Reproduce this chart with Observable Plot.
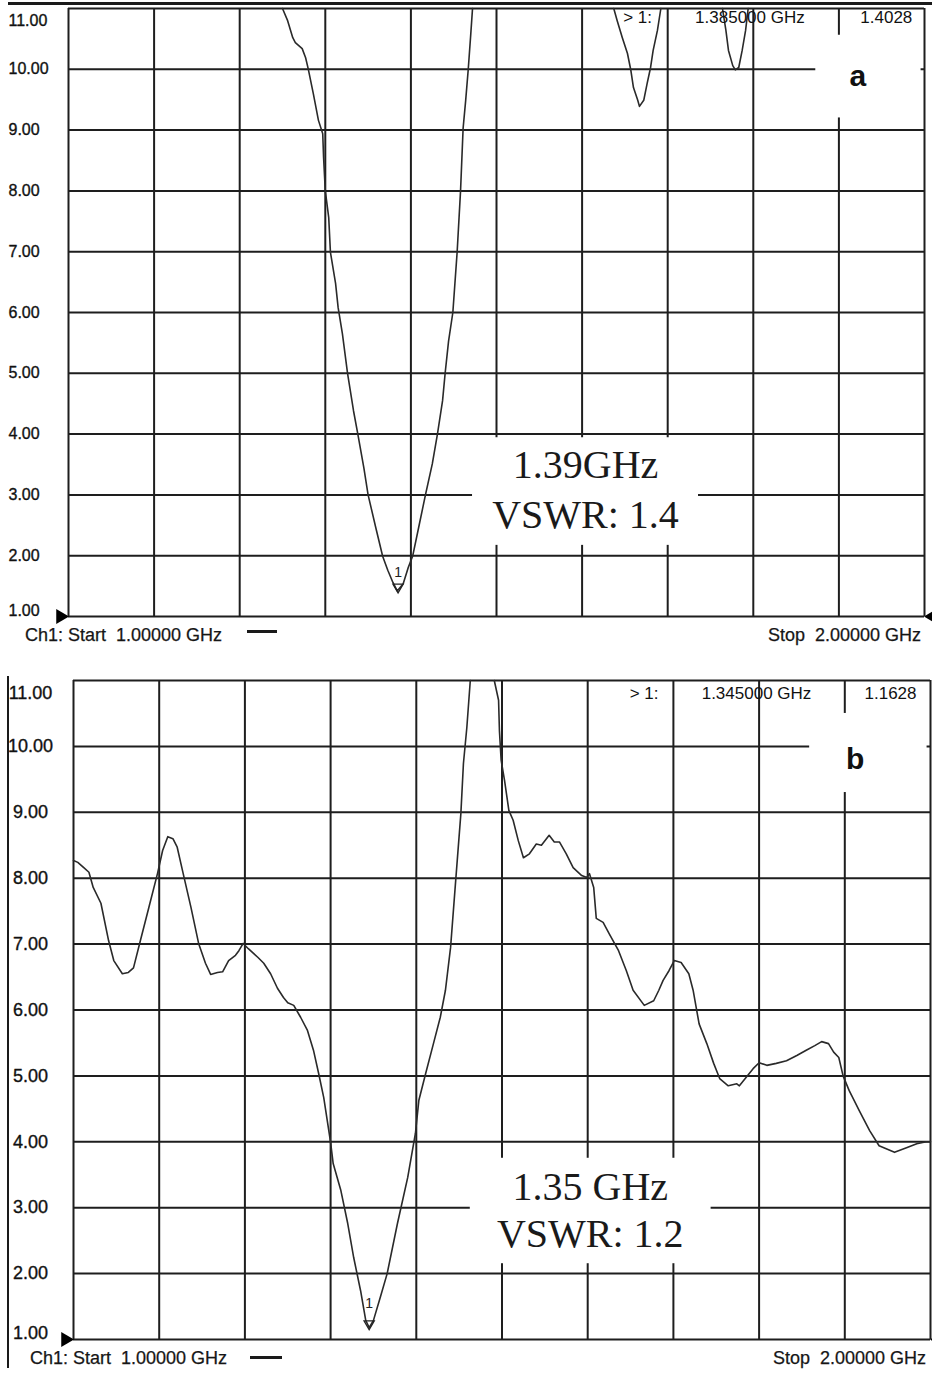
<!DOCTYPE html>
<html>
<head>
<meta charset="utf-8">
<script src="https://cdn.jsdelivr.net/npm/d3@7"></script>
<script src="https://cdn.jsdelivr.net/npm/@observablehq/plot@0.6"></script>
<style>
  body { margin: 0; background: #fff; }
  #wrap { position: relative; width: 932px; height: 1373px; overflow: hidden;
          font-family: "Liberation Sans", Arial, sans-serif; color: #161616; background: #fff; }
  .abs { position: absolute; white-space: pre; line-height: 18px; font-size: 18px; -webkit-text-stroke: 0.25px #161616; }
  .line { position: absolute; background: #1a1a1a; }
</style>
</head>
<body>
<div id="wrap"></div>
<script>
// ---------- data ----------
const yTicks = [1, 2, 3, 4, 5, 6, 7, 8, 9, 10, 11];
const xGrid = [1.0, 1.1, 1.2, 1.3, 1.4, 1.5, 1.6, 1.7, 1.8, 1.9, 2.0];

// Panel a: frequency (GHz) and VSWR; null = trace off-screen (above 11)
const freqA = [1.250,1.256,1.262,1.265,1.273,1.277,1.280,1.286,1.292,1.297,1.298,1.300,1.304,1.306,1.312,1.315,1.320,1.326,1.333,1.338,1.345,1.350,1.359,1.367,1.373,1.379,1.384,1.391,1.397,1.402,1.409,1.417,1.425,1.431,1.437,1.440,1.444,1.449,1.454,1.458,1.461,1.464,1.467,1.470,1.472,null,
  1.637,1.641,1.647,1.653,1.657,1.660,1.665,1.667,1.672,1.676,1.680,1.683,1.688,1.692,null,
  1.764,1.768,1.771,1.776,1.779,1.783,1.787,1.791,1.794];
const vswrA = [11.0,10.8,10.52,10.44,10.34,10.19,10.01,9.60,9.16,8.94,8.55,8.0,7.56,6.99,6.48,6.08,5.65,5.0,4.38,4.0,3.45,3.0,2.46,1.99,1.76,1.56,1.42,1.54,1.81,1.99,2.46,3.0,3.51,4.0,4.55,5.0,5.53,6.0,6.99,8.0,9.03,9.49,10.0,10.59,11.0,null,
  11.0,10.8,10.52,10.26,9.98,9.70,9.49,9.39,9.49,9.77,10.03,10.31,10.64,11.0,null,
  11.0,10.64,10.31,10.06,9.99,10.03,10.31,10.64,11.0];

// Panel b
const freqB = [1.000,1.005,1.012,1.018,1.023,1.032,1.041,1.047,1.057,1.064,1.070,1.078,1.088,1.098,1.104,1.110,1.116,1.121,1.128,1.137,1.146,1.154,1.160,1.168,1.174,1.181,1.189,1.193,1.198,1.204,1.215,1.222,1.230,1.238,1.245,1.250,1.257,1.265,1.273,1.280,1.286,1.292,1.300,1.303,1.312,1.320,1.327,1.335,1.341,1.345,1.350,1.358,1.366,1.378,1.390,1.399,1.403,1.411,1.420,1.428,1.434,1.440,1.446,1.452,1.455,1.459,1.463,null,
  1.491,1.496,1.497,1.499,1.503,1.508,1.513,1.519,1.525,1.532,1.540,1.546,1.555,1.561,1.567,1.575,1.583,1.593,1.599,1.602,1.607,1.610,1.618,1.625,1.636,1.645,1.653,1.666,1.677,1.683,1.688,1.695,1.701,1.709,1.718,1.723,1.730,1.739,1.747,1.754,1.764,1.774,1.777,1.785,1.793,1.800,1.809,1.820,1.832,1.844,1.855,1.865,1.873,1.881,1.887,1.893,1.898,1.905,1.917,1.929,1.940,1.958,1.972,1.984,1.995,2.000];
const vswrB = [8.27,8.24,8.16,8.09,7.86,7.62,7.05,6.75,6.55,6.57,6.64,7.05,7.56,8.07,8.42,8.63,8.60,8.47,8.07,7.56,7.01,6.71,6.54,6.57,6.58,6.75,6.83,6.90,7.01,6.93,6.80,6.71,6.55,6.33,6.19,6.11,6.07,5.89,5.69,5.39,5.04,4.67,3.99,3.67,3.26,2.76,2.24,1.74,1.29,1.18,1.29,1.64,2.0,2.76,3.46,4.13,4.63,5.04,5.49,5.89,6.30,6.95,7.97,8.98,9.74,10.29,11.0,null,
  11.0,10.7,10.24,9.79,9.48,9.03,8.88,8.57,8.31,8.37,8.52,8.50,8.65,8.55,8.55,8.37,8.16,8.04,8.01,8.07,7.86,7.39,7.33,7.16,6.90,6.60,6.30,6.07,6.14,6.30,6.45,6.60,6.75,6.72,6.55,6.30,5.79,5.49,5.19,4.96,4.85,4.88,4.85,4.98,5.11,5.20,5.16,5.19,5.23,5.31,5.39,5.46,5.52,5.49,5.36,5.28,5.00,4.78,4.47,4.17,3.94,3.84,3.91,3.97,4.00,4.00];

const readoutA = ["> 1:", "1.385000 GHz", "1.4028"];
const readoutB = ["> 1:", "1.345000 GHz", "1.1628"];
const markerA = {f: 1.385, v: 1.4028};
const markerB = {f: 1.345, v: 1.1628};
const noteA = ["1.39GHz", "VSWR: 1.4"];
const noteB = ["1.35 GHz", "VSWR: 1.2"];
const startLabel = "Ch1: Start  1.00000 GHz";
const stopLabel = "Stop  2.00000 GHz";

// ---------- drawing ----------
const fmt = d3.format(".2f");
const INK = "#1e1e1e";

function panel(o) {
  const pts = o.freq.map((f, i) => ({f, v: o.vswr[i]}));
  const tick = (filter, dy) => Plot.text(yTicks.filter(filter), {
    y: d => d, text: d => fmt(d), frameAnchor: "left", dx: o.tickDx, dy,
    textAnchor: o.tickAnchor, fontSize: o.tickFont, fill: "#111", stroke: "#111", strokeWidth: 0.35
  });
  const L = o.layout;
  return Plot.plot({
    width: 932, height: o.height,
    marginLeft: o.mL, marginRight: o.mR, marginTop: 8, marginBottom: 6,
    x: {domain: [1, 2], axis: null},
    y: {domain: [1, 11], axis: null},
    style: {fontFamily: "Liberation Sans, Arial, sans-serif", overflow: "visible", background: "transparent"},
    marks: [
      Plot.ruleY(yTicks, {stroke: INK, strokeWidth: 2}),
      Plot.ruleX(xGrid, {stroke: INK, strokeWidth: 2}),
      Plot.rect([L.noteBox, L.letterBox], {x1: "x1", x2: "x2", y1: "y1", y2: "y2", fill: "white"}),
      Plot.line(pts, {x: "f", y: "v", stroke: "#2a2a2a", strokeWidth: 1.6}),
      // y tick labels
      tick(d => d === 11, o.topDy),
      tick(d => d > 1 && d < 11, 0),
      tick(d => d === 1, -6),
      // marker readout row
      Plot.text(o.readout, {x: (d, i) => L.readoutX[i], y: L.readoutY, text: d => d,
        textAnchor: "start", fontSize: 17, fill: "#111"}),
      // marker symbol
      Plot.dot([o.marker], {x: "f", y: "v", symbol: "triangle", rotate: 180, r: 3.8,
        stroke: "#222", strokeWidth: 1.3, fill: "none", dy: -5}),
      Plot.text([o.marker], {x: "f", y: "v", text: () => "1", dy: o.markerDy, fontSize: 14, fill: "#222"}),
      // axis end arrows
      Plot.dot([{f: 1, v: 1}], {x: "f", y: "v", symbol: "triangle", rotate: 90, r: 5.5, fill: "#000", dx: -8}),
      Plot.dot([{f: 2, v: 1}], {x: "f", y: "v", symbol: "triangle", rotate: -90, r: 5.5, fill: "#000", dx: 8}),
      // annotation
      Plot.text(o.note, {x: L.noteX, y: (d, i) => L.noteY[i], text: d => d, lineAnchor: "bottom",
        fontFamily: "Liberation Serif, Times New Roman, serif", fontSize: 40, fill: "#1a1a1a"}),
      Plot.text([o.letter], {x: L.letterX, y: L.letterY, text: d => d, lineAnchor: "bottom",
        fontSize: 30, fontWeight: "bold", fill: "#111"})
    ]
  });
}

const wrap = document.getElementById("wrap");
function place(el, top, left) {
  el.style.position = "absolute"; el.style.top = top + "px"; el.style.left = left + "px";
  wrap.appendChild(el);
}
function addText(txt, top, left, right) {
  const d = document.createElement("div");
  d.className = "abs"; d.textContent = txt; d.style.top = top + "px";
  if (left != null) d.style.left = left + "px"; else d.style.right = right + "px";
  wrap.appendChild(d);
}
function addLine(top, left, w, h) {
  const d = document.createElement("div");
  d.className = "line";
  Object.assign(d.style, {top: top + "px", left: left + "px", width: w + "px", height: h + "px"});
  wrap.appendChild(d);
}

const svgA = panel({
  freq: freqA, vswr: vswrA, readout: readoutA, marker: markerA, note: noteA, letter: "a",
  height: 622, mL: 68, mR: 8, tickFont: 16, tickAnchor: "start", tickDx: -60, topDy: 12, markerDy: -19,
  layout: {
    noteBox: {x1: 1.472, x2: 1.736, y1: 2.17, y2: 3.94},
    letterBox: {x1: 1.873, x2: 1.996, y1: 9.2, y2: 10.56},
    readoutX: [1.648, 1.732, 1.925], readoutY: 10.85,
    noteX: 1.604, noteY: [3.27, 2.45],
    letterX: 1.922, letterY: 9.72
  }
});
place(svgA, 0, 0);

const svgB = panel({
  freq: freqB, vswr: vswrB, readout: readoutB, marker: markerB, note: noteB, letter: "b",
  height: 673, mL: 73, mR: 2, tickFont: 18, tickAnchor: "middle", tickDx: -43, topDy: 13, markerDy: -25,
  layout: {
    noteBox: {x1: 1.463, x2: 1.744, y1: 2.15, y2: 3.75},
    letterBox: {x1: 1.859, x2: 1.996, y1: 9.3, y2: 10.5},
    readoutX: [1.649, 1.733, 1.923], readoutY: 10.80,
    noteX: 1.603, noteY: [3.12, 2.40],
    letterX: 1.912, letterY: 9.66
  }
});
place(svgB, 672, 0);

// footers
addText(startLabel, 626, 25);
addLine(630, 247, 30, 2.5);
addText(stopLabel, 626, null, 11);
addText(startLabel, 1349, 30);
addLine(1356, 250, 32, 2.5);
addText(stopLabel, 1349, null, 6);

// scan frame edges
addLine(2, 8, 924, 3);
addLine(676, 7, 2, 692);
</script>
</body>
</html>
